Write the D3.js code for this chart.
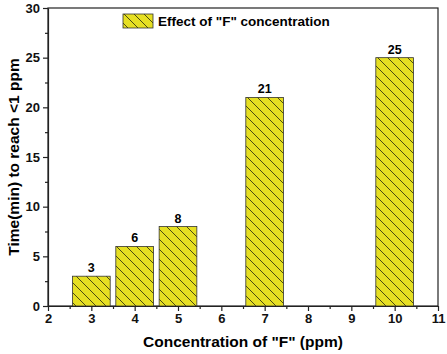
<!DOCTYPE html>
<html>
<head>
<meta charset="utf-8">
<script src="https://cdn.jsdelivr.net/npm/d3@7"></script>
<style>
  body { margin: 0; background: #fff; }
  text { font-family: Arial, "Liberation Sans", sans-serif; font-weight: bold; }
</style>
</head>
<body>
<div id="canvas"></div>
<script>
const concentrations = [3, 4, 5, 7, 10];
const times = [3, 6, 8, 21, 25];
const xTicks = [2, 3, 4, 5, 6, 7, 8, 9, 10, 11];
const yTicks = [0, 5, 10, 15, 20, 25, 30];
const legendLabel = 'Effect of "F" concentration';

const W = 447, H = 354;
const margin = {left: 48, right: 9, top: 8, bottom: 48};

const svg = d3.select("#canvas").append("svg")
	.attr("width", W).attr("height", H);

const defs = svg.append("defs");
const pat = defs.append("pattern")
	.attr("id", "hatch")
	.attr("patternUnits", "userSpaceOnUse")
	.attr("width", 10).attr("height", 10);
pat.append("rect").attr("width", 10).attr("height", 10).attr("fill", "#e6df22");
pat.append("path")
	.attr("d", "M0,0 L10,10 M-5,5 L5,15 M5,-5 L15,5")
	.attr("stroke", "#3a3a10").attr("stroke-width", 0.9);

const x = d3.scaleLinear().domain([2, 11]).range([margin.left, W - margin.right]);
const y = d3.scaleLinear().domain([0, 30]).range([H - margin.bottom, margin.top]);

const barW = 0.87;

// frame
svg.append("rect")
	.attr("x", x(2)).attr("y", y(30))
	.attr("width", x(11) - x(2)).attr("height", y(0) - y(30))
	.attr("fill", "none").attr("stroke", "#222").attr("stroke-width", 1.2);

svg.selectAll(".bar").data(concentrations).join("rect")
	.attr("class", "bar")
	.attr("x", d => x(d - barW / 2))
	.attr("width", d => x(d + barW / 2) - x(d - barW / 2))
	.attr("y", (d, i) => y(times[i]))
	.attr("height", (d, i) => y(0) - y(times[i]))
	.attr("fill", "url(#hatch)")
	.attr("stroke", "#333").attr("stroke-width", 0.8);

svg.selectAll(".val").data(concentrations).join("text")
	.attr("class", "val")
	.attr("x", d => x(d))
	.attr("y", (d, i) => y(times[i]) - 4)
	.attr("text-anchor", "middle")
	.attr("font-size", 12.5)
	.text((d, i) => times[i]);

// axes
svg.append("g")
	.attr("transform", `translate(0,${y(0)})`)
	.call(d3.axisBottom(x).tickValues(xTicks).tickSize(5).tickSizeOuter(0).tickPadding(3));
svg.append("g")
	.attr("transform", `translate(0,${y(0)})`)
	.call(d3.axisBottom(x).tickValues(d3.range(2.5, 11, 1)).tickSize(3).tickFormat(""))
	.call(g => g.select(".domain").remove());

svg.append("g")
	.attr("transform", `translate(${x(2)},0)`)
	.call(d3.axisLeft(y).tickValues(yTicks).tickSize(5).tickSizeOuter(0).tickPadding(3));
svg.append("g")
	.attr("transform", `translate(${x(2)},0)`)
	.call(d3.axisLeft(y).tickValues(d3.range(2.5, 30, 5)).tickSize(3).tickFormat(""))
	.call(g => g.select(".domain").remove());

svg.selectAll(".tick text").attr("font-size", 13).attr("fill", "#111");
svg.selectAll(".tick line, .domain").attr("stroke", "#222").attr("stroke-width", 1.2);

// legend
svg.append("rect")
	.attr("x", 123).attr("y", 14).attr("width", 30).attr("height", 14)
	.attr("fill", "url(#hatch)").attr("stroke", "#333").attr("stroke-width", 0.8);
svg.append("text")
	.attr("x", 158).attr("y", 26)
	.attr("font-size", 13.5)
	.text(legendLabel);

// axis titles
svg.append("text")
	.attr("x", (x(2) + x(11)) / 2).attr("y", 347)
	.attr("text-anchor", "middle")
	.attr("font-size", 15.5)
	.text('Concentration of "F" (ppm)');
svg.append("text")
	.attr("transform", `translate(19,${(y(0) + y(30)) / 2}) rotate(-90)`)
	.attr("text-anchor", "middle")
	.attr("font-size", 15.5)
	.text("Time(min) to reach <1 ppm");
</script>
</body>
</html>
